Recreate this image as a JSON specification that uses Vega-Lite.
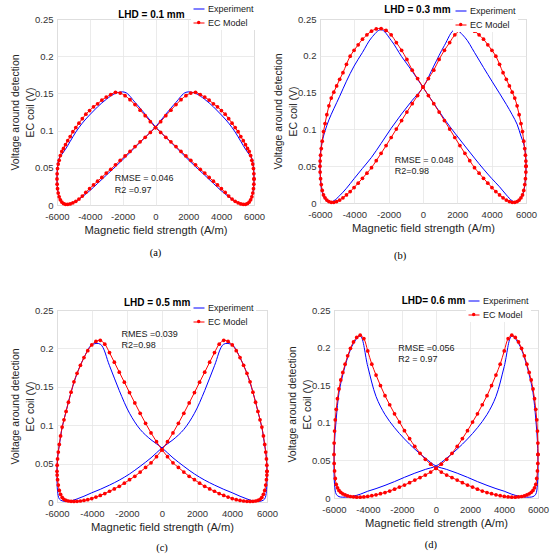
{
  "$schema": "https://vega.github.io/schema/vega-lite/v6.json",
  "padding": {"left": 10, "top": 0, "right": 2, "bottom": 2},
  "config": {
    "font": "Liberation Sans",
    "view": {"stroke": "#c0c0c0", "strokeWidth": 1},
    "axis": {"grid": true, "gridColor": "#e6e6e6", "gridWidth": 0.8, "domain": false, "ticks": false, "labelFontSize": 9.5, "labelColor": "#333333", "labelPadding": 4, "labelOverlap": false, "labelFlush": false, "titleFontSize": 10.5, "titleFontWeight": "normal", "titleColor": "#262626"},
    "axisX": {"labelPadding": 6.5, "titlePadding": 3, "titleFontSize": 11.2},
    "axisY": {"titlePadding": -1, "titleLineHeight": 15},
    "legend": {"fillColor": "#ffffff", "padding": 2, "rowPadding": 3, "labelFontSize": 9, "labelColor": "#1a1a1a", "symbolSize": 121, "symbolStrokeWidth": 1, "labelOffset": 3, "labelFont": "Liberation Sans"}
  },
  "datasets": {
    "a_mod": [{"H":6000,"V":0.035},{"H":5992,"V":0.042},{"H":5967,"V":0.049},{"H":5926,"V":0.055},{"H":5869,"V":0.06},{"H":5796,"V":0.0665},{"H":5706,"V":0.072},{"H":5601,"V":0.076},{"H":5481,"V":0.081},{"H":5346,"V":0.0865},{"H":5196,"V":0.092},{"H":5032,"V":0.0985},{"H":4854,"V":0.104},{"H":4663,"V":0.11},{"H":4459,"V":0.116},{"H":4243,"V":0.122},{"H":4015,"V":0.127},{"H":3776,"V":0.132},{"H":3527,"V":0.136},{"H":3268,"V":0.141},{"H":3000,"V":0.145},{"H":2724,"V":0.1485},{"H":2440,"V":0.1515},{"H":2150,"V":0.1505},{"H":1854,"V":0.147},{"H":1553,"V":0.1415},{"H":1247,"V":0.135},{"H":939,"V":0.1275},{"H":627,"V":0.12},{"H":314,"V":0.112},{"H":0,"V":0.104},{"H":-314,"V":0.0976},{"H":-627,"V":0.091},{"H":-939,"V":0.085},{"H":-1247,"V":0.0785},{"H":-1553,"V":0.072},{"H":-1854,"V":0.066},{"H":-2150,"V":0.06},{"H":-2440,"V":0.054},{"H":-2724,"V":0.048},{"H":-3000,"V":0.043},{"H":-3268,"V":0.037},{"H":-3527,"V":0.032},{"H":-3776,"V":0.027},{"H":-4015,"V":0.022},{"H":-4243,"V":0.017},{"H":-4459,"V":0.012},{"H":-4663,"V":0.008},{"H":-4854,"V":0.005},{"H":-5032,"V":0.003},{"H":-5196,"V":0.0015},{"H":-5346,"V":0.001},{"H":-5481,"V":0.001},{"H":-5601,"V":0.002},{"H":-5706,"V":0.004},{"H":-5796,"V":0.007},{"H":-5869,"V":0.011},{"H":-5926,"V":0.016},{"H":-5967,"V":0.022},{"H":-5992,"V":0.028},{"H":-6000,"V":0.035},{"H":-5992,"V":0.042},{"H":-5967,"V":0.049},{"H":-5926,"V":0.055},{"H":-5869,"V":0.06},{"H":-5796,"V":0.0665},{"H":-5706,"V":0.072},{"H":-5601,"V":0.076},{"H":-5481,"V":0.081},{"H":-5346,"V":0.0865},{"H":-5196,"V":0.092},{"H":-5032,"V":0.0985},{"H":-4854,"V":0.104},{"H":-4663,"V":0.11},{"H":-4459,"V":0.116},{"H":-4243,"V":0.122},{"H":-4015,"V":0.127},{"H":-3776,"V":0.132},{"H":-3527,"V":0.136},{"H":-3268,"V":0.141},{"H":-3000,"V":0.145},{"H":-2724,"V":0.1485},{"H":-2440,"V":0.1515},{"H":-2150,"V":0.1505},{"H":-1854,"V":0.147},{"H":-1553,"V":0.1415},{"H":-1247,"V":0.135},{"H":-939,"V":0.1275},{"H":-627,"V":0.12},{"H":-314,"V":0.112},{"H":0,"V":0.104},{"H":314,"V":0.0976},{"H":627,"V":0.091},{"H":939,"V":0.085},{"H":1247,"V":0.0785},{"H":1553,"V":0.072},{"H":1854,"V":0.066},{"H":2150,"V":0.06},{"H":2440,"V":0.054},{"H":2724,"V":0.048},{"H":3000,"V":0.043},{"H":3268,"V":0.037},{"H":3527,"V":0.032},{"H":3776,"V":0.027},{"H":4015,"V":0.022},{"H":4243,"V":0.017},{"H":4459,"V":0.012},{"H":4663,"V":0.008},{"H":4854,"V":0.005},{"H":5032,"V":0.003},{"H":5196,"V":0.0015},{"H":5346,"V":0.001},{"H":5481,"V":0.001},{"H":5601,"V":0.002},{"H":5706,"V":0.004},{"H":5796,"V":0.007},{"H":5869,"V":0.011},{"H":5926,"V":0.016},{"H":5967,"V":0.022},{"H":5992,"V":0.028},{"H":6000,"V":0.035}],
    "a_exp": [{"H":6000,"V":0.035},{"H":5967,"V":0.052},{"H":5869,"V":0.063},{"H":5706,"V":0.068},{"H":5481,"V":0.075},{"H":5196,"V":0.0855},{"H":4854,"V":0.098},{"H":4459,"V":0.11},{"H":4015,"V":0.121},{"H":3527,"V":0.132},{"H":3000,"V":0.142},{"H":2440,"V":0.15},{"H":1854,"V":0.1515},{"H":1247,"V":0.138},{"H":627,"V":0.122},{"H":0,"V":0.105},{"H":-627,"V":0.091},{"H":-1247,"V":0.0775},{"H":-1854,"V":0.064},{"H":-2440,"V":0.0515},{"H":-3000,"V":0.04},{"H":-3527,"V":0.029},{"H":-4015,"V":0.019},{"H":-4459,"V":0.011},{"H":-4854,"V":0.005},{"H":-5196,"V":0.002},{"H":-5481,"V":0.001},{"H":-5706,"V":0.004},{"H":-5869,"V":0.011},{"H":-5967,"V":0.021},{"H":-6000,"V":0.035},{"H":-5967,"V":0.052},{"H":-5869,"V":0.063},{"H":-5706,"V":0.068},{"H":-5481,"V":0.075},{"H":-5196,"V":0.0855},{"H":-4854,"V":0.098},{"H":-4459,"V":0.11},{"H":-4015,"V":0.121},{"H":-3527,"V":0.132},{"H":-3000,"V":0.142},{"H":-2440,"V":0.15},{"H":-1854,"V":0.1515},{"H":-1247,"V":0.138},{"H":-627,"V":0.122},{"H":0,"V":0.105},{"H":627,"V":0.091},{"H":1247,"V":0.0775},{"H":1854,"V":0.064},{"H":2440,"V":0.0515},{"H":3000,"V":0.04},{"H":3527,"V":0.029},{"H":4015,"V":0.019},{"H":4459,"V":0.011},{"H":4854,"V":0.005},{"H":5196,"V":0.002},{"H":5481,"V":0.001},{"H":5706,"V":0.004},{"H":5869,"V":0.011},{"H":5967,"V":0.021},{"H":6000,"V":0.035}],
    "b_mod": [{"H":6000,"V":0.05},{"H":5992,"V":0.057},{"H":5967,"V":0.065},{"H":5926,"V":0.074},{"H":5869,"V":0.084},{"H":5796,"V":0.097},{"H":5706,"V":0.108},{"H":5601,"V":0.12},{"H":5481,"V":0.132},{"H":5346,"V":0.1425},{"H":5196,"V":0.1505},{"H":5032,"V":0.159},{"H":4854,"V":0.168},{"H":4663,"V":0.177},{"H":4459,"V":0.1885},{"H":4243,"V":0.1995},{"H":4015,"V":0.2075},{"H":3776,"V":0.215},{"H":3527,"V":0.2225},{"H":3268,"V":0.2285},{"H":3000,"V":0.2335},{"H":2724,"V":0.2365},{"H":2440,"V":0.237},{"H":2150,"V":0.2345},{"H":1854,"V":0.2285},{"H":1553,"V":0.218},{"H":1247,"V":0.2075},{"H":939,"V":0.195},{"H":627,"V":0.1805},{"H":314,"V":0.169},{"H":0,"V":0.1576},{"H":-314,"V":0.146},{"H":-627,"V":0.135},{"H":-939,"V":0.1235},{"H":-1247,"V":0.112},{"H":-1553,"V":0.1005},{"H":-1854,"V":0.089},{"H":-2150,"V":0.078},{"H":-2440,"V":0.0675},{"H":-2724,"V":0.0575},{"H":-3000,"V":0.048},{"H":-3268,"V":0.0405},{"H":-3527,"V":0.0335},{"H":-3776,"V":0.027},{"H":-4015,"V":0.021},{"H":-4243,"V":0.0155},{"H":-4459,"V":0.011},{"H":-4663,"V":0.007},{"H":-4854,"V":0.004},{"H":-5032,"V":0.002},{"H":-5196,"V":0.001},{"H":-5346,"V":0.001},{"H":-5481,"V":0.002},{"H":-5601,"V":0.004},{"H":-5706,"V":0.007},{"H":-5796,"V":0.011},{"H":-5869,"V":0.017},{"H":-5926,"V":0.025},{"H":-5967,"V":0.033},{"H":-5992,"V":0.042},{"H":-6000,"V":0.05},{"H":-5992,"V":0.057},{"H":-5967,"V":0.065},{"H":-5926,"V":0.074},{"H":-5869,"V":0.084},{"H":-5796,"V":0.097},{"H":-5706,"V":0.108},{"H":-5601,"V":0.12},{"H":-5481,"V":0.132},{"H":-5346,"V":0.1425},{"H":-5196,"V":0.1505},{"H":-5032,"V":0.159},{"H":-4854,"V":0.168},{"H":-4663,"V":0.177},{"H":-4459,"V":0.1885},{"H":-4243,"V":0.1995},{"H":-4015,"V":0.2075},{"H":-3776,"V":0.215},{"H":-3527,"V":0.2225},{"H":-3268,"V":0.2285},{"H":-3000,"V":0.2335},{"H":-2724,"V":0.2365},{"H":-2440,"V":0.237},{"H":-2150,"V":0.2345},{"H":-1854,"V":0.2285},{"H":-1553,"V":0.218},{"H":-1247,"V":0.2075},{"H":-939,"V":0.195},{"H":-627,"V":0.1805},{"H":-314,"V":0.169},{"H":0,"V":0.1576},{"H":314,"V":0.146},{"H":627,"V":0.135},{"H":939,"V":0.1235},{"H":1247,"V":0.112},{"H":1553,"V":0.1005},{"H":1854,"V":0.089},{"H":2150,"V":0.078},{"H":2440,"V":0.0675},{"H":2724,"V":0.0575},{"H":3000,"V":0.048},{"H":3268,"V":0.0405},{"H":3527,"V":0.0335},{"H":3776,"V":0.027},{"H":4015,"V":0.021},{"H":4243,"V":0.0155},{"H":4459,"V":0.011},{"H":4663,"V":0.007},{"H":4854,"V":0.004},{"H":5032,"V":0.002},{"H":5196,"V":0.001},{"H":5346,"V":0.001},{"H":5481,"V":0.002},{"H":5601,"V":0.004},{"H":5706,"V":0.007},{"H":5796,"V":0.011},{"H":5869,"V":0.017},{"H":5926,"V":0.025},{"H":5967,"V":0.033},{"H":5992,"V":0.042},{"H":6000,"V":0.05}],
    "b_exp": [{"H":6000,"V":0.05},{"H":5967,"V":0.068},{"H":5869,"V":0.08},{"H":5706,"V":0.091},{"H":5481,"V":0.107},{"H":5196,"V":0.12},{"H":4854,"V":0.134},{"H":4459,"V":0.149},{"H":4015,"V":0.1655},{"H":3527,"V":0.184},{"H":3000,"V":0.2045},{"H":2440,"V":0.225},{"H":1854,"V":0.2355},{"H":1247,"V":0.214},{"H":627,"V":0.186},{"H":0,"V":0.157},{"H":-627,"V":0.1395},{"H":-1247,"V":0.121},{"H":-1854,"V":0.1015},{"H":-2440,"V":0.081},{"H":-3000,"V":0.062},{"H":-3527,"V":0.047},{"H":-4015,"V":0.033},{"H":-4459,"V":0.02},{"H":-4854,"V":0.01},{"H":-5196,"V":0.003},{"H":-5481,"V":0.001},{"H":-5706,"V":0.005},{"H":-5869,"V":0.014},{"H":-5967,"V":0.03},{"H":-6000,"V":0.05},{"H":-5967,"V":0.07},{"H":-5869,"V":0.084},{"H":-5706,"V":0.098},{"H":-5481,"V":0.113},{"H":-5196,"V":0.128},{"H":-4854,"V":0.145},{"H":-4459,"V":0.1655},{"H":-4015,"V":0.186},{"H":-3527,"V":0.2045},{"H":-3000,"V":0.2245},{"H":-2440,"V":0.2355},{"H":-1854,"V":0.221},{"H":-1247,"V":0.199},{"H":-627,"V":0.179},{"H":0,"V":0.157},{"H":627,"V":0.1355},{"H":1247,"V":0.114},{"H":1854,"V":0.095},{"H":2440,"V":0.0775},{"H":3000,"V":0.061},{"H":3527,"V":0.046},{"H":4015,"V":0.033},{"H":4459,"V":0.022},{"H":4854,"V":0.011},{"H":5196,"V":0.003},{"H":5481,"V":0.001},{"H":5706,"V":0.006},{"H":5869,"V":0.016},{"H":5967,"V":0.032},{"H":6000,"V":0.05}],
    "c_mod": [{"H":6000,"V":0.04},{"H":5992,"V":0.048},{"H":5967,"V":0.056},{"H":5926,"V":0.065},{"H":5869,"V":0.075},{"H":5796,"V":0.086},{"H":5706,"V":0.0975},{"H":5601,"V":0.107},{"H":5481,"V":0.118},{"H":5346,"V":0.13},{"H":5196,"V":0.143},{"H":5032,"V":0.1565},{"H":4854,"V":0.1675},{"H":4663,"V":0.178},{"H":4459,"V":0.188},{"H":4243,"V":0.197},{"H":4015,"V":0.2045},{"H":3776,"V":0.209},{"H":3527,"V":0.2105},{"H":3268,"V":0.2055},{"H":3000,"V":0.1945},{"H":2724,"V":0.182},{"H":2440,"V":0.169},{"H":2150,"V":0.156},{"H":1854,"V":0.1425},{"H":1553,"V":0.129},{"H":1247,"V":0.1155},{"H":939,"V":0.1025},{"H":627,"V":0.09},{"H":314,"V":0.0785},{"H":0,"V":0.068},{"H":-314,"V":0.059},{"H":-627,"V":0.051},{"H":-939,"V":0.045},{"H":-1247,"V":0.039},{"H":-1553,"V":0.0335},{"H":-1854,"V":0.029},{"H":-2150,"V":0.0245},{"H":-2440,"V":0.0205},{"H":-2724,"V":0.017},{"H":-3000,"V":0.014},{"H":-3268,"V":0.011},{"H":-3527,"V":0.0085},{"H":-3776,"V":0.0065},{"H":-4015,"V":0.0045},{"H":-4243,"V":0.003},{"H":-4459,"V":0.002},{"H":-4663,"V":0.0013},{"H":-4854,"V":0.0009},{"H":-5032,"V":0.0008},{"H":-5196,"V":0.0009},{"H":-5346,"V":0.0013},{"H":-5481,"V":0.002},{"H":-5601,"V":0.0035},{"H":-5706,"V":0.006},{"H":-5796,"V":0.01},{"H":-5869,"V":0.015},{"H":-5926,"V":0.022},{"H":-5967,"V":0.029},{"H":-5992,"V":0.035},{"H":-6000,"V":0.04},{"H":-5992,"V":0.048},{"H":-5967,"V":0.056},{"H":-5926,"V":0.065},{"H":-5869,"V":0.075},{"H":-5796,"V":0.086},{"H":-5706,"V":0.0975},{"H":-5601,"V":0.107},{"H":-5481,"V":0.118},{"H":-5346,"V":0.13},{"H":-5196,"V":0.143},{"H":-5032,"V":0.1565},{"H":-4854,"V":0.1675},{"H":-4663,"V":0.178},{"H":-4459,"V":0.188},{"H":-4243,"V":0.197},{"H":-4015,"V":0.2045},{"H":-3776,"V":0.209},{"H":-3527,"V":0.2105},{"H":-3268,"V":0.2055},{"H":-3000,"V":0.1945},{"H":-2724,"V":0.182},{"H":-2440,"V":0.169},{"H":-2150,"V":0.156},{"H":-1854,"V":0.1425},{"H":-1553,"V":0.129},{"H":-1247,"V":0.1155},{"H":-939,"V":0.1025},{"H":-627,"V":0.09},{"H":-314,"V":0.0785},{"H":0,"V":0.068},{"H":314,"V":0.059},{"H":627,"V":0.051},{"H":939,"V":0.045},{"H":1247,"V":0.039},{"H":1553,"V":0.0335},{"H":1854,"V":0.029},{"H":2150,"V":0.0245},{"H":2440,"V":0.0205},{"H":2724,"V":0.017},{"H":3000,"V":0.014},{"H":3268,"V":0.011},{"H":3527,"V":0.0085},{"H":3776,"V":0.0065},{"H":4015,"V":0.0045},{"H":4243,"V":0.003},{"H":4459,"V":0.002},{"H":4663,"V":0.0013},{"H":4854,"V":0.0009},{"H":5032,"V":0.0008},{"H":5196,"V":0.0009},{"H":5346,"V":0.0013},{"H":5481,"V":0.002},{"H":5601,"V":0.0035},{"H":5706,"V":0.006},{"H":5796,"V":0.01},{"H":5869,"V":0.015},{"H":5926,"V":0.022},{"H":5967,"V":0.029},{"H":5992,"V":0.035},{"H":6000,"V":0.04}],
    "c_exp": [{"H":6000,"V":0.035},{"H":5967,"V":0.058},{"H":5869,"V":0.0735},{"H":5706,"V":0.097},{"H":5481,"V":0.118},{"H":5196,"V":0.143},{"H":4854,"V":0.1675},{"H":4459,"V":0.188},{"H":4015,"V":0.2045},{"H":3527,"V":0.2055},{"H":3000,"V":0.1775},{"H":2440,"V":0.145},{"H":1854,"V":0.1155},{"H":1247,"V":0.0945},{"H":627,"V":0.081},{"H":0,"V":0.0705},{"H":-627,"V":0.0575},{"H":-1247,"V":0.0465},{"H":-1854,"V":0.0365},{"H":-2440,"V":0.0285},{"H":-3000,"V":0.022},{"H":-3527,"V":0.0165},{"H":-4015,"V":0.012},{"H":-4459,"V":0.0075},{"H":-4854,"V":0.004},{"H":-5196,"V":0.0015},{"H":-5481,"V":0.0008},{"H":-5706,"V":0.0015},{"H":-5869,"V":0.004},{"H":-5967,"V":0.014},{"H":-6000,"V":0.035},{"H":-5967,"V":0.058},{"H":-5869,"V":0.0735},{"H":-5706,"V":0.097},{"H":-5481,"V":0.118},{"H":-5196,"V":0.143},{"H":-4854,"V":0.1675},{"H":-4459,"V":0.188},{"H":-4015,"V":0.2045},{"H":-3527,"V":0.2055},{"H":-3000,"V":0.1775},{"H":-2440,"V":0.145},{"H":-1854,"V":0.1155},{"H":-1247,"V":0.0945},{"H":-627,"V":0.081},{"H":0,"V":0.0705},{"H":627,"V":0.0575},{"H":1247,"V":0.0465},{"H":1854,"V":0.0365},{"H":2440,"V":0.0285},{"H":3000,"V":0.022},{"H":3527,"V":0.0165},{"H":4015,"V":0.012},{"H":4459,"V":0.0075},{"H":4854,"V":0.004},{"H":5196,"V":0.0015},{"H":5481,"V":0.0008},{"H":5706,"V":0.0015},{"H":5869,"V":0.004},{"H":5967,"V":0.014},{"H":6000,"V":0.035}],
    "d_mod": [{"H":6000,"V":0.058},{"H":5992,"V":0.073},{"H":5967,"V":0.089},{"H":5926,"V":0.104},{"H":5869,"V":0.118},{"H":5796,"V":0.132},{"H":5706,"V":0.145},{"H":5601,"V":0.157},{"H":5481,"V":0.167},{"H":5346,"V":0.178},{"H":5196,"V":0.189},{"H":5032,"V":0.199},{"H":4854,"V":0.2075},{"H":4663,"V":0.2135},{"H":4459,"V":0.2165},{"H":4243,"V":0.212},{"H":4015,"V":0.1955},{"H":3776,"V":0.178},{"H":3527,"V":0.1635},{"H":3268,"V":0.1495},{"H":3000,"V":0.136},{"H":2724,"V":0.124},{"H":2440,"V":0.112},{"H":2150,"V":0.101},{"H":1854,"V":0.0895},{"H":1553,"V":0.079},{"H":1247,"V":0.0685},{"H":939,"V":0.0595},{"H":627,"V":0.0515},{"H":314,"V":0.045},{"H":0,"V":0.0395},{"H":-314,"V":0.0345},{"H":-627,"V":0.0305},{"H":-939,"V":0.0272},{"H":-1247,"V":0.0238},{"H":-1553,"V":0.0204},{"H":-1854,"V":0.0172},{"H":-2150,"V":0.0145},{"H":-2440,"V":0.0118},{"H":-2724,"V":0.0093},{"H":-3000,"V":0.0073},{"H":-3268,"V":0.0057},{"H":-3527,"V":0.0042},{"H":-3776,"V":0.003},{"H":-4015,"V":0.0021},{"H":-4243,"V":0.0014},{"H":-4459,"V":0.0011},{"H":-4663,"V":0.0011},{"H":-4854,"V":0.0015},{"H":-5032,"V":0.002},{"H":-5196,"V":0.0028},{"H":-5346,"V":0.004},{"H":-5481,"V":0.0055},{"H":-5601,"V":0.0075},{"H":-5706,"V":0.01},{"H":-5796,"V":0.0135},{"H":-5869,"V":0.018},{"H":-5926,"V":0.026},{"H":-5967,"V":0.036},{"H":-5992,"V":0.046},{"H":-6000,"V":0.058},{"H":-5992,"V":0.073},{"H":-5967,"V":0.089},{"H":-5926,"V":0.104},{"H":-5869,"V":0.118},{"H":-5796,"V":0.132},{"H":-5706,"V":0.145},{"H":-5601,"V":0.157},{"H":-5481,"V":0.167},{"H":-5346,"V":0.178},{"H":-5196,"V":0.189},{"H":-5032,"V":0.199},{"H":-4854,"V":0.2075},{"H":-4663,"V":0.2135},{"H":-4459,"V":0.2165},{"H":-4243,"V":0.212},{"H":-4015,"V":0.1955},{"H":-3776,"V":0.178},{"H":-3527,"V":0.1635},{"H":-3268,"V":0.1495},{"H":-3000,"V":0.136},{"H":-2724,"V":0.124},{"H":-2440,"V":0.112},{"H":-2150,"V":0.101},{"H":-1854,"V":0.0895},{"H":-1553,"V":0.079},{"H":-1247,"V":0.0685},{"H":-939,"V":0.0595},{"H":-627,"V":0.0515},{"H":-314,"V":0.045},{"H":0,"V":0.0395},{"H":314,"V":0.0345},{"H":627,"V":0.0305},{"H":939,"V":0.0272},{"H":1247,"V":0.0238},{"H":1553,"V":0.0204},{"H":1854,"V":0.0172},{"H":2150,"V":0.0145},{"H":2440,"V":0.0118},{"H":2724,"V":0.0093},{"H":3000,"V":0.0073},{"H":3268,"V":0.0057},{"H":3527,"V":0.0042},{"H":3776,"V":0.003},{"H":4015,"V":0.0021},{"H":4243,"V":0.0014},{"H":4459,"V":0.0011},{"H":4663,"V":0.0011},{"H":4854,"V":0.0015},{"H":5032,"V":0.002},{"H":5196,"V":0.0028},{"H":5346,"V":0.004},{"H":5481,"V":0.0055},{"H":5601,"V":0.0075},{"H":5706,"V":0.01},{"H":5796,"V":0.0135},{"H":5869,"V":0.018},{"H":5926,"V":0.026},{"H":5967,"V":0.036},{"H":5992,"V":0.046},{"H":6000,"V":0.058}],
    "d_exp": [{"H":6000,"V":0.045},{"H":5967,"V":0.075},{"H":5869,"V":0.105},{"H":5706,"V":0.14},{"H":5481,"V":0.164},{"H":5196,"V":0.187},{"H":4854,"V":0.2055},{"H":4459,"V":0.2155},{"H":4015,"V":0.175},{"H":3527,"V":0.135},{"H":3000,"V":0.111},{"H":2440,"V":0.0935},{"H":1854,"V":0.0785},{"H":1247,"V":0.065},{"H":627,"V":0.053},{"H":0,"V":0.0425},{"H":-627,"V":0.038},{"H":-1247,"V":0.033},{"H":-1854,"V":0.0275},{"H":-2440,"V":0.0218},{"H":-3000,"V":0.0168},{"H":-3527,"V":0.0125},{"H":-4015,"V":0.009},{"H":-4459,"V":0.005},{"H":-4854,"V":0.0025},{"H":-5196,"V":0.0013},{"H":-5481,"V":0.0011},{"H":-5706,"V":0.0018},{"H":-5869,"V":0.005},{"H":-5967,"V":0.018},{"H":-6000,"V":0.045},{"H":-5967,"V":0.075},{"H":-5869,"V":0.105},{"H":-5706,"V":0.14},{"H":-5481,"V":0.164},{"H":-5196,"V":0.187},{"H":-4854,"V":0.2055},{"H":-4459,"V":0.2155},{"H":-4015,"V":0.175},{"H":-3527,"V":0.135},{"H":-3000,"V":0.111},{"H":-2440,"V":0.0935},{"H":-1854,"V":0.0785},{"H":-1247,"V":0.065},{"H":-627,"V":0.053},{"H":0,"V":0.0425},{"H":627,"V":0.038},{"H":1247,"V":0.033},{"H":1854,"V":0.0275},{"H":2440,"V":0.0218},{"H":3000,"V":0.0168},{"H":3527,"V":0.0125},{"H":4015,"V":0.009},{"H":4459,"V":0.005},{"H":4854,"V":0.0025},{"H":5196,"V":0.0013},{"H":5481,"V":0.0011},{"H":5706,"V":0.0018},{"H":5869,"V":0.005},{"H":5967,"V":0.018},{"H":6000,"V":0.045}]
  },
  "bounds": "flush",
  "spacing": 291,
  "resolve": {"scale": {"color": "independent", "fill": "independent"}, "legend": {"color": "independent", "fill": "independent"}},
  "vconcat": [
    {
      "bounds": "flush",
      "spacing": 66,
      "resolve": {"scale": {"color": "independent", "fill": "independent"}, "legend": {"color": "independent", "fill": "independent"}},
      "hconcat": [
        {
          "width": 197, "height": 186,
          "data": {"values": [{}]},
          "resolve": {"axis": {"x": "independent", "y": "independent"}},
          "layer": [
            {"data": {"name": "a_exp"}, "mark": {"type": "line", "interpolate": "catmull-rom", "strokeWidth": 1},
             "encoding": {
               "x": {"field": "H", "type": "quantitative", "scale": {"domain": [-6000, 6000], "nice": false, "zero": false}, "axis": {"values": [-6000, -4000, -2000, 0, 2000, 4000, 6000], "labelOverlap": false, "labelExpr": "'' + datum.value", "title": "Magnetic field strength (A/m)"}},
               "y": {"field": "V", "type": "quantitative", "scale": {"domain": [0, 0.25], "nice": false}, "axis": {"values": [0, 0.05, 0.1, 0.15, 0.2, 0.25], "labelOverlap": false, "format": "~g", "title": ["Voltage around detection", "EC coil (V)"]}},
               "order": {"value": null},
               "color": {"datum": "Experiment", "type": "nominal", "scale": {"domain": ["Experiment", "EC Model"], "range": ["#0000ff", "#ff0000"]},
                 "legend": {"title": null, "orient": "none", "legendX": 134, "legendY": -18, "symbolType": "stroke"}}}},
            {"data": {"name": "a_mod"}, "mark": {"type": "line", "interpolate": "catmull-rom", "strokeWidth": 1},
             "encoding": {"x": {"field": "H", "type": "quantitative", "axis": null}, "y": {"field": "V", "type": "quantitative", "axis": null}, "order": {"value": null}, "color": {"datum": "EC Model", "type": "nominal"}}},
            {"data": {"name": "a_mod"}, "mark": {"type": "point", "filled": true, "size": 14, "opacity": 1},
             "encoding": {"x": {"field": "H", "type": "quantitative", "axis": null}, "y": {"field": "V", "type": "quantitative", "axis": null},
               "fill": {"datum": "EC Model", "type": "nominal", "scale": {"range": ["#ff0000"]},
               "legend": {"title": null, "orient": "none", "legendX": 139.7, "legendY": 1.5, "symbolType": "circle", "symbolSize": 12, "symbolStrokeWidth": 0, "labelExpr": "''", "labelFontSize": 4, "padding": 0, "fillColor": "rgba(0,0,0,0)", "zindex": 3}}}},
            {"mark": {"type": "text", "text": "LHD = 0.1 mm", "fontWeight": "bold", "fontSize": 10, "baseline": "alphabetic", "dy": -1, "color": "#000000"}, "encoding": {"x": {"datum": -250, "type": "quantitative", "axis": null}, "y": {"datum": 0.25, "type": "quantitative", "axis": null}}},
            {"mark": {"type": "text", "text": "RMSE = 0.046", "align": "left", "baseline": "middle", "fontSize": 9, "color": "#1a1a1a"}, "encoding": {"x": {"datum": -2480, "type": "quantitative", "axis": null}, "y": {"datum": 0.036, "type": "quantitative", "axis": null}}},
            {"mark": {"type": "text", "text": "R2 =0.97", "align": "left", "baseline": "middle", "fontSize": 9, "color": "#1a1a1a"}, "encoding": {"x": {"datum": -2480, "type": "quantitative", "axis": null}, "y": {"datum": 0.02, "type": "quantitative", "axis": null}}},
            {"mark": {"type": "text", "text": "(a)", "font": "Liberation Serif", "fontSize": 10.5, "baseline": "middle", "dy": 48, "color": "#000000"}, "encoding": {"x": {"datum": 0, "type": "quantitative", "axis": null}, "y": {"datum": 0, "type": "quantitative", "axis": null}}}
          ]
        },
        {
          "width": 206, "height": 184,
          "data": {"values": [{}]},
          "resolve": {"axis": {"x": "independent", "y": "independent"}},
          "layer": [
            {"data": {"name": "b_exp"}, "mark": {"type": "line", "interpolate": "catmull-rom", "strokeWidth": 1},
             "encoding": {
               "x": {"field": "H", "type": "quantitative", "scale": {"domain": [-6000, 6000], "nice": false, "zero": false}, "axis": {"values": [-6000, -4000, -2000, 0, 2000, 4000, 6000], "labelOverlap": false, "labelExpr": "'' + datum.value", "title": "Magnetic field strength (A/m)"}},
               "y": {"field": "V", "type": "quantitative", "scale": {"domain": [0, 0.25], "nice": false}, "axis": {"values": [0, 0.05, 0.1, 0.15, 0.2, 0.25], "labelOverlap": false, "format": "~g", "title": ["Voltage around detection", "EC coil (V)"]}},
               "order": {"value": null},
               "color": {"datum": "Experiment", "type": "nominal", "scale": {"domain": ["Experiment", "EC Model"], "range": ["#0000ff", "#ff0000"]},
                 "legend": {"title": null, "orient": "none", "legendX": 133, "legendY": -16, "symbolType": "stroke"}}}},
            {"data": {"name": "b_mod"}, "mark": {"type": "line", "interpolate": "catmull-rom", "strokeWidth": 1},
             "encoding": {"x": {"field": "H", "type": "quantitative", "axis": null}, "y": {"field": "V", "type": "quantitative", "axis": null}, "order": {"value": null}, "color": {"datum": "EC Model", "type": "nominal"}}},
            {"data": {"name": "b_mod"}, "mark": {"type": "point", "filled": true, "size": 14, "opacity": 1},
             "encoding": {"x": {"field": "H", "type": "quantitative", "axis": null}, "y": {"field": "V", "type": "quantitative", "axis": null},
               "fill": {"datum": "EC Model", "type": "nominal", "scale": {"range": ["#ff0000"]},
               "legend": {"title": null, "orient": "none", "legendX": 138.7, "legendY": 3.5, "symbolType": "circle", "symbolSize": 12, "symbolStrokeWidth": 0, "labelExpr": "''", "labelFontSize": 4, "padding": 0, "fillColor": "rgba(0,0,0,0)", "zindex": 3}}}},
            {"mark": {"type": "text", "text": "LHD = 0.3 mm", "fontWeight": "bold", "fontSize": 10, "baseline": "alphabetic", "dy": -6, "color": "#000000"}, "encoding": {"x": {"datum": -330, "type": "quantitative", "axis": null}, "y": {"datum": 0.25, "type": "quantitative", "axis": null}}},
            {"mark": {"type": "text", "text": "RMSE = 0.048", "align": "left", "baseline": "middle", "fontSize": 9, "color": "#1a1a1a"}, "encoding": {"x": {"datum": -1650, "type": "quantitative", "axis": null}, "y": {"datum": 0.0588, "type": "quantitative", "axis": null}}},
            {"mark": {"type": "text", "text": "R2=0.98", "align": "left", "baseline": "middle", "fontSize": 9, "color": "#1a1a1a"}, "encoding": {"x": {"datum": -1650, "type": "quantitative", "axis": null}, "y": {"datum": 0.0435, "type": "quantitative", "axis": null}}},
            {"mark": {"type": "text", "text": "(b)", "font": "Liberation Serif", "fontSize": 10.5, "baseline": "middle", "dy": 53, "color": "#000000"}, "encoding": {"x": {"datum": -1330, "type": "quantitative", "axis": null}, "y": {"datum": 0, "type": "quantitative", "axis": null}}}
          ]
        }
      ]
    },
    {
      "bounds": "flush",
      "spacing": 67,
      "resolve": {"scale": {"color": "independent", "fill": "independent"}, "legend": {"color": "independent", "fill": "independent"}},
      "hconcat": [
        {
          "width": 210, "height": 192,
          "data": {"values": [{}]},
          "resolve": {"axis": {"x": "independent", "y": "independent"}},
          "layer": [
            {"data": {"name": "c_exp"}, "mark": {"type": "line", "interpolate": "catmull-rom", "strokeWidth": 1},
             "encoding": {
               "x": {"field": "H", "type": "quantitative", "scale": {"domain": [-6000, 6000], "nice": false, "zero": false}, "axis": {"values": [-6000, -4000, -2000, 0, 2000, 4000, 6000], "labelOverlap": false, "labelExpr": "'' + datum.value", "title": "Magnetic field strength (A/m)"}},
               "y": {"field": "V", "type": "quantitative", "scale": {"domain": [0, 0.25], "nice": false}, "axis": {"values": [0, 0.05, 0.1, 0.15, 0.2, 0.25], "labelOverlap": false, "format": "~g", "title": ["Voltage around detection", "EC coil (V)"]}},
               "order": {"value": null},
               "color": {"datum": "Experiment", "type": "nominal", "scale": {"domain": ["Experiment", "EC Model"], "range": ["#0000ff", "#ff0000"]},
                 "legend": {"title": null, "orient": "none", "legendX": 134, "legendY": -10, "symbolType": "stroke"}}}},
            {"data": {"name": "c_mod"}, "mark": {"type": "line", "interpolate": "catmull-rom", "strokeWidth": 1},
             "encoding": {"x": {"field": "H", "type": "quantitative", "axis": null}, "y": {"field": "V", "type": "quantitative", "axis": null}, "order": {"value": null}, "color": {"datum": "EC Model", "type": "nominal"}}},
            {"data": {"name": "c_mod"}, "mark": {"type": "point", "filled": true, "size": 14, "opacity": 1},
             "encoding": {"x": {"field": "H", "type": "quantitative", "axis": null}, "y": {"field": "V", "type": "quantitative", "axis": null},
               "fill": {"datum": "EC Model", "type": "nominal", "scale": {"range": ["#ff0000"]},
               "legend": {"title": null, "orient": "none", "legendX": 139.7, "legendY": 9.5, "symbolType": "circle", "symbolSize": 12, "symbolStrokeWidth": 0, "labelExpr": "''", "labelFontSize": 4, "padding": 0, "fillColor": "rgba(0,0,0,0)", "zindex": 3}}}},
            {"mark": {"type": "text", "text": "LHD = 0.5 mm", "fontWeight": "bold", "fontSize": 10, "baseline": "alphabetic", "dy": -4.5, "color": "#000000"}, "encoding": {"x": {"datum": -280, "type": "quantitative", "axis": null}, "y": {"datum": 0.25, "type": "quantitative", "axis": null}}},
            {"mark": {"type": "text", "text": "RMES =0.039", "align": "left", "baseline": "middle", "fontSize": 9, "color": "#1a1a1a"}, "encoding": {"x": {"datum": -2320, "type": "quantitative", "axis": null}, "y": {"datum": 0.219, "type": "quantitative", "axis": null}}},
            {"mark": {"type": "text", "text": "R2=0.98", "align": "left", "baseline": "middle", "fontSize": 9, "color": "#1a1a1a"}, "encoding": {"x": {"datum": -2320, "type": "quantitative", "axis": null}, "y": {"datum": 0.204, "type": "quantitative", "axis": null}}},
            {"mark": {"type": "text", "text": "(c)", "font": "Liberation Serif", "fontSize": 10.5, "baseline": "middle", "dy": 45.5, "color": "#000000"}, "encoding": {"x": {"datum": 0, "type": "quantitative", "axis": null}, "y": {"datum": 0, "type": "quantitative", "axis": null}}}
          ]
        },
        {
          "width": 204, "height": 188,
          "data": {"values": [{}]},
          "resolve": {"axis": {"x": "independent", "y": "independent"}},
          "layer": [
            {"data": {"name": "d_exp"}, "mark": {"type": "line", "interpolate": "catmull-rom", "strokeWidth": 1},
             "encoding": {
               "x": {"field": "H", "type": "quantitative", "scale": {"domain": [-6000, 6000], "nice": false, "zero": false}, "axis": {"values": [-6000, -4000, -2000, 0, 2000, 4000, 6000], "labelOverlap": false, "labelExpr": "'' + datum.value", "title": "Magnetic field strength (A/m)"}},
               "y": {"field": "V", "type": "quantitative", "scale": {"domain": [0, 0.25], "nice": false}, "axis": {"values": [0, 0.05, 0.1, 0.15, 0.2, 0.25], "labelOverlap": false, "format": "~g", "title": ["Voltage around detection", "EC coil (V)"]}},
               "order": {"value": null},
               "color": {"datum": "Experiment", "type": "nominal", "scale": {"domain": ["Experiment", "EC Model"], "range": ["#0000ff", "#ff0000"]},
                 "legend": {"title": null, "orient": "none", "legendX": 132, "legendY": -17, "symbolType": "stroke"}}}},
            {"data": {"name": "d_mod"}, "mark": {"type": "line", "interpolate": "catmull-rom", "strokeWidth": 1},
             "encoding": {"x": {"field": "H", "type": "quantitative", "axis": null}, "y": {"field": "V", "type": "quantitative", "axis": null}, "order": {"value": null}, "color": {"datum": "EC Model", "type": "nominal"}}},
            {"data": {"name": "d_mod"}, "mark": {"type": "point", "filled": true, "size": 14, "opacity": 1},
             "encoding": {"x": {"field": "H", "type": "quantitative", "axis": null}, "y": {"field": "V", "type": "quantitative", "axis": null},
               "fill": {"datum": "EC Model", "type": "nominal", "scale": {"range": ["#ff0000"]},
               "legend": {"title": null, "orient": "none", "legendX": 137.7, "legendY": 2.5, "symbolType": "circle", "symbolSize": 12, "symbolStrokeWidth": 0, "labelExpr": "''", "labelFontSize": 4, "padding": 0, "fillColor": "rgba(0,0,0,0)", "zindex": 3}}}},
            {"mark": {"type": "text", "text": "LHD= 0.6 mm", "fontWeight": "bold", "fontSize": 10, "baseline": "alphabetic", "dy": -6, "color": "#000000"}, "encoding": {"x": {"datum": -150, "type": "quantitative", "axis": null}, "y": {"datum": 0.25, "type": "quantitative", "axis": null}}},
            {"mark": {"type": "text", "text": "RMSE =0.056", "align": "left", "baseline": "middle", "fontSize": 9, "color": "#1a1a1a"}, "encoding": {"x": {"datum": -2220, "type": "quantitative", "axis": null}, "y": {"datum": 0.199, "type": "quantitative", "axis": null}}},
            {"mark": {"type": "text", "text": "R2 = 0.97", "align": "left", "baseline": "middle", "fontSize": 9, "color": "#1a1a1a"}, "encoding": {"x": {"datum": -2220, "type": "quantitative", "axis": null}, "y": {"datum": 0.1845, "type": "quantitative", "axis": null}}},
            {"mark": {"type": "text", "text": "(d)", "font": "Liberation Serif", "fontSize": 10.5, "baseline": "middle", "dy": 46.5, "color": "#000000"}, "encoding": {"x": {"datum": -300, "type": "quantitative", "axis": null}, "y": {"datum": 0, "type": "quantitative", "axis": null}}}
          ]
        }
      ]
    }
  ]
}
